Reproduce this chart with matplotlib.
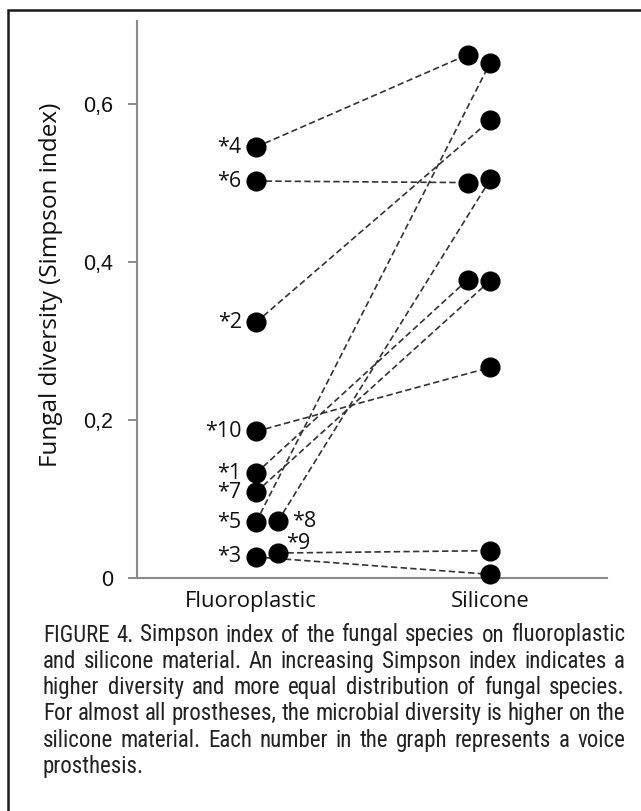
import matplotlib
matplotlib.use("Agg")
import matplotlib.pyplot as plt
from matplotlib.patches import Rectangle
from matplotlib import font_manager

# Simpson index per voice prosthesis
prosthesis = ["1", "2", "3", "4", "5", "6", "7", "8", "9", "10"]
fluoroplastic = [0.133, 0.324, 0.027, 0.546, 0.071, 0.503, 0.109, 0.072, 0.032, 0.186]
silicone = [0.378, 0.580, 0.005, 0.663, 0.653, 0.501, 0.377, 0.505, 0.035, 0.267]

categories = ["Fluoroplastic", "Silicone"]
yticks = [0, 0.2, 0.4, 0.6]
yticklabels = ["0", "0,2", "0,4", "0,6"]

caption_lines = [
    "FIGURE 4. Simpson index of the fungal species on fluoroplastic",
    "and silicone material. An increasing Simpson index indicates a",
    "higher diversity and more equal distribution of fungal species.",
    "For almost all prostheses, the microbial diversity is higher on the",
    "silicone material. Each number in the graph represents a voice",
    "prosthesis.",
]

# small horizontal shifts so overlapping dots stay visible
fluoro_shift = {"8": 0.093, "9": 0.093}
silicone_shift = {"1": -0.0965, "4": -0.0965, "6": -0.0965}
# label offsets in points
label_pos = {"8": (10, 0, "left"), "9": (6, 7, "left")}

# pick a condensed face for the caption if one is installed
installed = {f.name for f in font_manager.fontManager.ttflist}
cap_family = "Roboto"
for name in ["Roboto Condensed", "Liberation Sans Narrow", "DejaVu Sans Condensed"]:
    if name in installed:
        cap_family = name
        break

W, H = 641, 811
fig = plt.figure(figsize=(W / 100, H / 100), dpi=100)
fig.patch.set_facecolor("white")

ax = fig.add_axes([136.7 / W, 1 - 578.3 / H, 470.3 / W, 557.6 / H])
ax.set_xlim(-0.509, 1.498)
ax.set_ylim(0, 0.706)

gray = "#8a8a8a"
for side in ["top", "right"]:
    ax.spines[side].set_visible(False)
for side in ["left", "bottom"]:
    ax.spines[side].set_color(gray)
    ax.spines[side].set_linewidth(1.5)

for i, p in enumerate(prosthesis):
    x0 = 0 + fluoro_shift.get(p, 0)
    x1 = 1 + silicone_shift.get(p, 0)
    ax.plot([x0, x1], [fluoroplastic[i], silicone[i]], color="#333333",
            lw=1.2, dashes=(3.8, 2.0), zorder=2)
    ax.plot([x0, x1], [fluoroplastic[i], silicone[i]], "o", color="black",
            ms=13.5, mec="black", zorder=3, clip_on=False)
    dx, dy, ha = label_pos.get(p, (-10.3, 0, "right"))
    ax.annotate("*" + p, (x0, fluoroplastic[i]), xytext=(dx, dy),
                textcoords="offset points", ha=ha, va="center",
                fontsize=15.5, family="Open Sans", color="#111111")

ax.set_yticks(yticks)
ax.set_yticklabels(yticklabels, family="Liberation Sans", fontsize=15.5,
                   color="#111111")
ax.tick_params(axis="y", direction="out", length=6.3, width=1.4,
               color=gray, pad=10.5)

ax.set_xticks([-0.02, 1.0])
ax.set_xticklabels(categories, family="Open Sans", fontsize=15.8,
                   color="#111111")
ax.tick_params(axis="x", length=0, pad=9)

ax.set_ylabel("Fungal diversity (Simpson index)", family="Open Sans",
              fontsize=17.5, color="#111111")
ax.yaxis.set_label_coords(-0.157, 0.526)

# frame around figure + caption (open to the right and bottom)
fig.add_artist(Rectangle((8 / W, -0.05), 1.1, 1 - 9.5 / H + 0.05,
                         transform=fig.transFigure, fill=False,
                         lw=1.8, edgecolor="#1a1a1a", clip_on=False))

# justified caption
fig.canvas.draw()
renderer = fig.canvas.get_renderer()
x_left, x_right = 43, 625
span = x_right - x_left
min_gap = 5
cap_size = 16.5
cap_weight = "normal"


def measure(size):
    rows = []
    for line in caption_lines:
        ws = []
        for w in line.split():
            t = fig.text(0, 0, w, family=cap_family, fontsize=size,
                         weight=cap_weight)
            ws.append(t.get_window_extent(renderer).width)
            t.remove()
        rows.append(ws)
    return rows


rows = measure(cap_size)
need = max(sum(ws) + min_gap * (len(ws) - 1) for ws in rows[:-1])
if need > span:
    cap_size *= span / need
    rows = measure(cap_size)

for k, line in enumerate(caption_lines):
    y = 1 - (635 + 26.3 * k) / H
    words = line.split()
    widths = rows[k]
    if k == len(caption_lines) - 1:
        gap = 5
    else:
        gap = (span - sum(widths)) / (len(words) - 1)
    x = x_left
    for w, wd in zip(words, widths):
        fig.text(x / W, y, w, family=cap_family, fontsize=cap_size,
                 weight=cap_weight, color="#222222", va="center")
        x += wd + gap

fig.savefig("out.png", dpi=100)
